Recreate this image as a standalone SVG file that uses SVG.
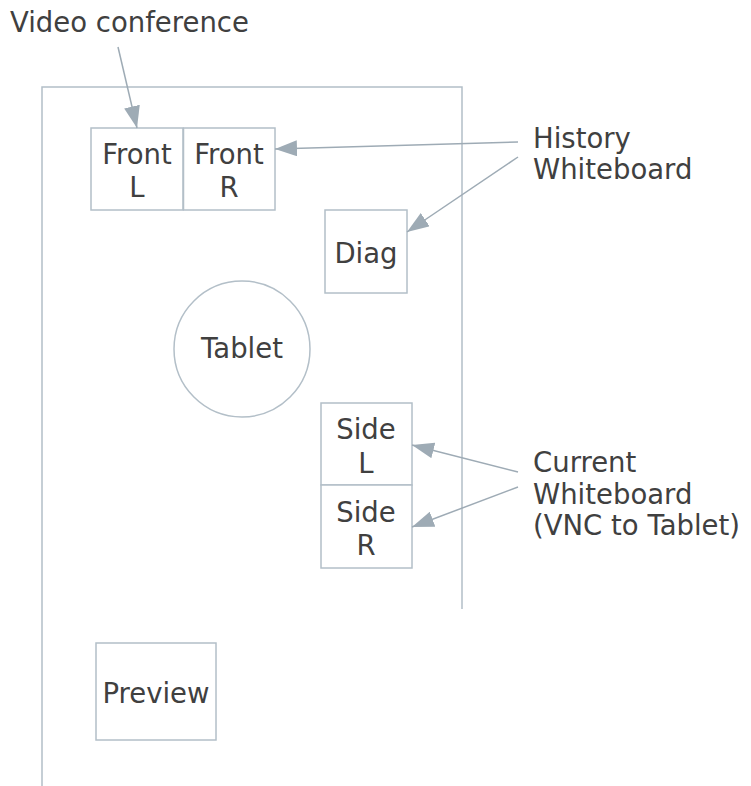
<svg xmlns="http://www.w3.org/2000/svg" width="751" height="786" viewBox="0 0 751 786">
  <style>
    .box { fill: #ffffff; stroke: #b3bfc8; stroke-width: 1.5; }
    .wall { fill: none; stroke: #b3bfc8; stroke-width: 1.5; }
    .lbl { font-family: "DejaVu Sans", Verdana, sans-serif; font-size: 27.5px; fill: #404040; }
    .mid { text-anchor: middle; }
    .conn { fill: none; stroke: #9eabb5; stroke-width: 1.5; }
  </style>
  <defs>
    <marker id="head" viewBox="0 0 22 16" refX="22" refY="8" markerWidth="22" markerHeight="16" markerUnits="userSpaceOnUse" orient="auto">
      <path d="M0,0 L22,8 L0,16 Z" fill="#9eabb5"/>
    </marker>
  </defs>
  <rect width="751" height="786" fill="#ffffff"/>

  <!-- room walls -->
  <g id="room">
    <path class="wall" d="M42,786 L42,87 L462,87 L462,609"/>
  </g>

  <g id="front-l">
    <rect class="box" x="91" y="128" width="92" height="82"/>
    <text class="lbl mid" x="137" y="164">Front</text>
    <text class="lbl mid" x="137" y="197">L</text>
  </g>
  <g id="front-r">
    <rect class="box" x="183.5" y="128" width="91.5" height="82"/>
    <text class="lbl mid" x="229" y="164">Front</text>
    <text class="lbl mid" x="229" y="197">R</text>
  </g>
  <g id="diag">
    <rect class="box" x="325" y="210" width="82" height="83"/>
    <text class="lbl mid" x="366" y="263">Diag</text>
  </g>
  <g id="tablet">
    <circle class="box" cx="242" cy="349" r="68"/>
    <text class="lbl mid" x="242" y="358">Tablet</text>
  </g>
  <g id="side-l">
    <rect class="box" x="321" y="403" width="91" height="82"/>
    <text class="lbl mid" x="366" y="439">Side</text>
    <text class="lbl mid" x="366" y="473">L</text>
  </g>
  <g id="side-r">
    <rect class="box" x="321" y="485" width="91" height="83"/>
    <text class="lbl mid" x="366" y="522">Side</text>
    <text class="lbl mid" x="366" y="555">R</text>
  </g>
  <g id="preview">
    <rect class="box" x="96" y="643" width="120" height="97"/>
    <text class="lbl mid" x="156" y="703">Preview</text>
  </g>

  <g id="video-conference">
    <text class="lbl" x="10" y="32">Video conference</text>
  </g>
  <g id="history-whiteboard">
    <text class="lbl" x="533" y="148">History</text>
    <text class="lbl" x="533" y="179">Whiteboard</text>
  </g>
  <g id="current-whiteboard">
    <text class="lbl" x="533" y="472">Current</text>
    <text class="lbl" x="533" y="504">Whiteboard</text>
    <text class="lbl" x="533" y="535">(VNC to Tablet)</text>
  </g>

  <g id="connectors">
    <line class="conn" x1="118" y1="47" x2="137" y2="128" marker-end="url(#head)"/>
    <line class="conn" x1="518" y1="142" x2="275" y2="149" marker-end="url(#head)"/>
    <line class="conn" x1="518" y1="157" x2="407" y2="232" marker-end="url(#head)"/>
    <line class="conn" x1="518" y1="472" x2="412" y2="445" marker-end="url(#head)"/>
    <line class="conn" x1="518" y1="487" x2="412" y2="527" marker-end="url(#head)"/>
  </g>
</svg>
